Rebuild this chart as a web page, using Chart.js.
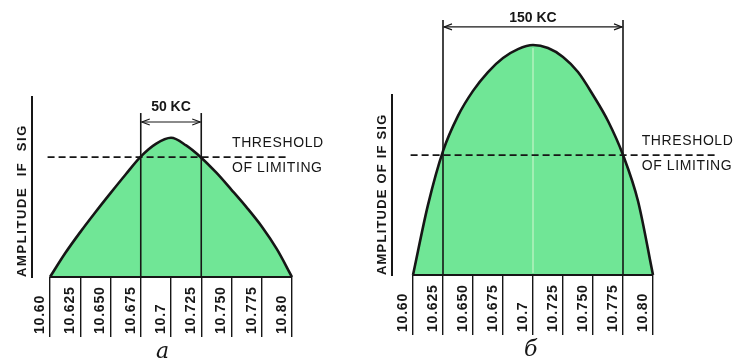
<!DOCTYPE html>
<html>
<head>
<meta charset="utf-8">
<script src="https://cdn.jsdelivr.net/npm/chart.js@4/dist/chart.umd.min.js"></script>
<style>
  html, body { margin: 0; padding: 0; background: #fff; }
  .panel { position: absolute; top: 0; width: 370px; height: 362px; }
  #panel-a { left: 0; }
  #panel-b { left: 370px; }
</style>
</head>
<body>
<div class="panel" id="panel-a"><canvas id="chart-a"></canvas></div>
<div class="panel" id="panel-b"><canvas id="chart-b"></canvas></div>
<script>
// frequency ticks (Mc) shared by both panels
const freqTicks = [10.60, 10.625, 10.65, 10.675, 10.7, 10.725, 10.75, 10.775, 10.80];
const tickLabels = ['10.60', '10.625', '10.650', '10.675', '10.7', '10.725', '10.750', '10.775', '10.80'];

// sample points every 12.5 kc
const freqs = [10.60, 10.6125, 10.625, 10.6375, 10.65, 10.6625, 10.675, 10.6875, 10.70,
               10.7125, 10.725, 10.7375, 10.75, 10.7625, 10.775, 10.7875, 10.80];

// panel a: narrow response
const ampA = [0, 9.3, 17.6, 25.4, 32.9, 40.2, 47.2, 52.2, 54.6,
              51.6, 46.8, 40.9, 34.2, 27.3, 19.8, 10.9, 0];

// panel b: wide response
const ampB = [0, 27.5, 48.6, 62.4, 72.2, 79.6, 85.1, 88.6, 90.2,
              89, 85.5, 79.6, 70.6, 60.4, 47.1, 29, 0];

const threshold = 47;
const bandA = [10.675, 10.725];
const bandB = [10.625, 10.775];

const ink = '#161616';
const green = 'rgb(112, 230, 150)';
const fontFam = '"Liberation Sans", Arial, sans-serif';

function line(ctx, x1, y1, x2, y2) {
    ctx.beginPath();
    ctx.moveTo(x1, y1);
    ctx.lineTo(x2, y2);
    ctx.stroke();
}

function arrowHead(ctx, x, y, dir) {
    ctx.beginPath();
    ctx.moveTo(x + dir * 8, y - 3);
    ctx.lineTo(x, y);
    ctx.lineTo(x + dir * 8, y + 3);
    ctx.stroke();
}

const sketchPlugin = {
    id: 'sketch',
    afterDatasetsDraw(chart, args, opts) {
        const ctx = chart.ctx;
        const xs = chart.scales.x, ys = chart.scales.y;
        const px = v => xs.getPixelForValue(v);
        const py = v => ys.getPixelForValue(v);
        const y0 = py(0);

        ctx.save();
        ctx.strokeStyle = ink;
        ctx.fillStyle = ink;

        // faint light streak in the fill
        if (opts.streak) {
            ctx.strokeStyle = 'rgba(255,255,235,0.7)';
            ctx.lineWidth = 1;
            line(ctx, px(opts.streak[0]), y0 - 2, px(opts.streak[0]), py(opts.streak[1]));
            ctx.strokeStyle = ink;
        }

        // baseline
        ctx.lineWidth = 2;
        line(ctx, px(freqTicks[0]), y0, px(freqTicks[freqTicks.length - 1]), y0);

        // amplitude axis
        const ax = px(freqTicks[0]) - opts.axisGap;
        ctx.lineWidth = 2;
        line(ctx, ax, y0 + 1, ax, py(opts.axisTop));

        // threshold of limiting
        ctx.setLineDash([7, 4]);
        ctx.lineWidth = 1.6;
        line(ctx, px(opts.dashFrom), py(threshold), px(opts.dashTo), py(threshold));
        ctx.setLineDash([]);

        // band edges + arrow
        ctx.lineWidth = 1.6;
        opts.band.forEach(f => line(ctx, px(f), y0, px(f), py(opts.markTop)));
        const x1 = px(opts.band[0]) + 1, x2 = px(opts.band[1]) - 1, ay = py(opts.arrowY);
        ctx.lineWidth = 1.1;
        line(ctx, x1, ay, x2, ay);
        arrowHead(ctx, x1, ay, 1);
        arrowHead(ctx, x2, ay, -1);

        ctx.font = 'bold 14px ' + fontFam;
        ctx.textAlign = 'center';
        ctx.textBaseline = 'middle';
        ctx.fillText(opts.bandLabel, (x1 + x2) / 2, py(opts.labelY));

        // threshold text
        ctx.font = '14px ' + fontFam;
        ctx.letterSpacing = '0.6px';
        ctx.textAlign = 'left';
        ctx.fillText('THRESHOLD', px(opts.textX), py(threshold) - 14);
        ctx.fillText('OF LIMITING', px(opts.textX), py(threshold) + 11);

        // axis title
        ctx.save();
        ctx.translate(ax - 10, y0);
        ctx.rotate(-Math.PI / 2);
        ctx.font = 'bold 13px ' + fontFam;
        ctx.letterSpacing = opts.titleSpacing;
        ctx.textAlign = 'left';
        ctx.fillText(opts.title, 0, 0);
        ctx.restore();

        // tick labels, read upward
        ctx.font = 'bold 14px ' + fontFam;
        ctx.letterSpacing = '0.8px';
        freqTicks.forEach((f, i) => {
            ctx.save();
            ctx.translate(px(f) - 10, y0 + 57);
            ctx.rotate(-Math.PI / 2);
            ctx.textAlign = 'left';
            ctx.fillText(tickLabels[i], 0, 0);
            ctx.restore();
        });

        // panel letter
        ctx.letterSpacing = '0px';
        ctx.font = 'italic 22px "DejaVu Serif", serif';
        ctx.textAlign = 'center';
        ctx.fillText(opts.letter, px(opts.letterX), y0 + 75);

        ctx.restore();
    }
};

function makeChart(id, amps, pad, axisHeight, sketch) {
    return new Chart(document.getElementById(id), {
        type: 'line',
        data: {
            datasets: [{
                data: freqs.map((f, i) => ({ x: f, y: amps[i] })),
                borderColor: ink,
                borderWidth: 2.6,
                backgroundColor: green,
                fill: 'origin',
                pointRadius: 0,
                cubicInterpolationMode: 'monotone',
                clip: 8
            }]
        },
        options: {
            responsive: true,
            maintainAspectRatio: false,
            animation: false,
            devicePixelRatio: 1,
            layout: { padding: pad },
            scales: {
                x: {
                    type: 'linear',
                    min: 10.60,
                    max: 10.80,
                    afterBuildTicks: scale => { scale.ticks = freqTicks.map(v => ({ value: v })); },
                    afterFit: scale => { scale.height = axisHeight; },
                    ticks: { display: false },
                    border: { display: false },
                    grid: {
                        display: true,
                        drawOnChartArea: false,
                        drawTicks: true,
                        tickLength: 60,
                        color: ink,
                        lineWidth: 1.4
                    }
                },
                y: { display: false, min: 0, max: 100 }
            },
            plugins: {
                legend: { display: false },
                tooltip: { enabled: false },
                sketch: sketch
            }
        },
        plugins: [sketchPlugin]
    });
}

makeChart('chart-a', ampA, { left: 50, right: 78, top: 22, bottom: 0 }, 85, {
    axisGap: 18, axisTop: 71,
    dashFrom: 10.598, dashTo: 10.798, textX: 10.7504,
    band: bandA, markTop: 64.3, arrowY: 60.8, labelY: 66.5, bandLabel: '50 KC',
    title: 'AMPLITUDE  IF  SIG', titleSpacing: '1.6px',
    letter: 'а', letterX: 10.693
});

makeChart('chart-b', ampB, { left: 43, right: 87, top: 20, bottom: 0 }, 87, {
    axisGap: 21, axisTop: 71,
    dashFrom: 10.598, dashTo: 10.853, textX: 10.7906,
    band: bandB, markTop: 100, arrowY: 97.3, labelY: 100.8, bandLabel: '150 KC',
    title: 'AMPLITUDE OF IF SIG', titleSpacing: '1.2px',
    letter: 'б', letterX: 10.698, streak: [10.7, 89]
});
</script>
</body>
</html>
